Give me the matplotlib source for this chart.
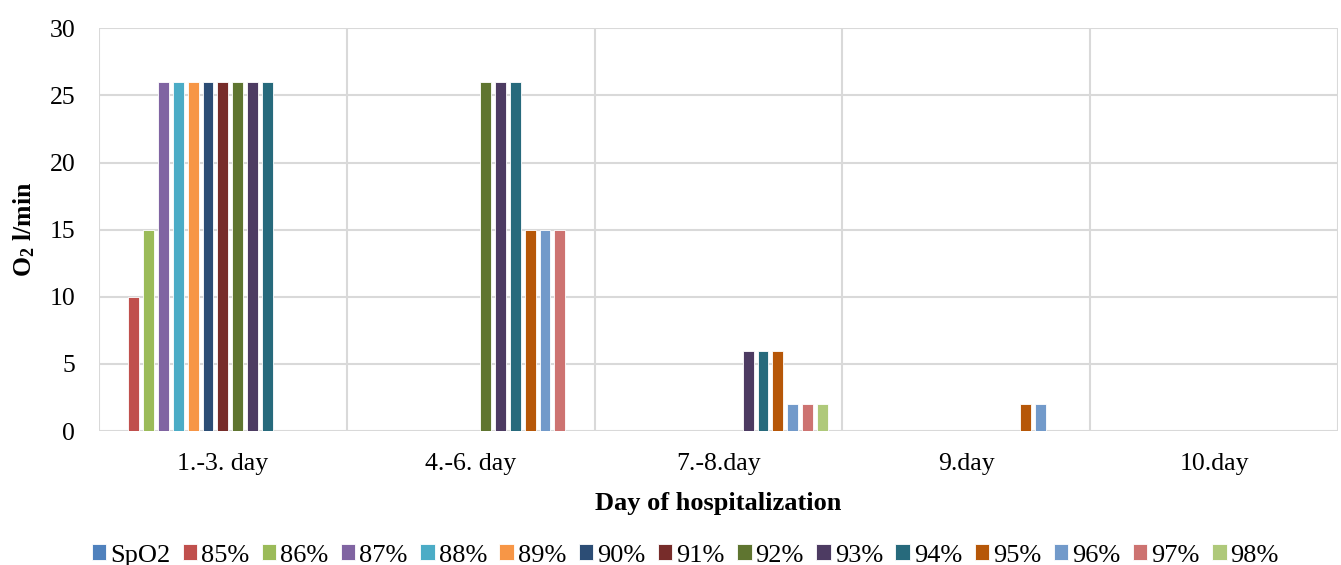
import matplotlib
matplotlib.use("Agg")
import matplotlib.pyplot as plt
import numpy as np

plt.rcParams["font.family"] = ["Liberation Serif", "DejaVu Serif"]
plt.rcParams["mathtext.fontset"] = "custom"
plt.rcParams["mathtext.rm"] = "Liberation Serif"
plt.rcParams["mathtext.bf"] = "Liberation Serif:bold"

# ─── Data ────────────────────────────────────────────────────
days = ["1.-3. day", "4.-6. day", "7.-8.day", "9.day", "10.day"]
series = ["SpO2", "85%", "86%", "87%", "88%", "89%", "90%", "91%",
          "92%", "93%", "94%", "95%", "96%", "97%", "98%"]

# O2 flow (l/min) per saturation level, one list per day group
day_1_3 = [0, 10, 15, 26, 26, 26, 26, 26, 26, 26, 26, 0, 0, 0, 0]
day_4_6 = [0, 0, 0, 0, 0, 0, 0, 0, 26, 26, 26, 15, 15, 15, 0]
day_7_8 = [0, 0, 0, 0, 0, 0, 0, 0, 0, 6, 6, 6, 2, 2, 2]
day_9 = [0, 0, 0, 0, 0, 0, 0, 0, 0, 0, 0, 2, 2, 0, 0]
day_10 = [0, 0, 0, 0, 0, 0, 0, 0, 0, 0, 0, 0, 0, 0, 0]

colors = ["#4F81BD", "#C0504D", "#9BBB59", "#8064A2", "#4BACC6", "#F79646",
          "#2C4D75", "#772C2A", "#5F7530", "#4D3B62", "#276A7C", "#B65708",
          "#729ACA", "#CD7371", "#AFC97A"]

values = np.array([day_1_3, day_4_6, day_7_8, day_9, day_10], float)

# ─── Plot ────────────────────────────────────────────────────
fig = plt.figure(figsize=(13.41, 5.65), dpi=100)
ax = fig.add_axes([0.0738, 0.237, 0.9239, 0.713])

x = np.arange(len(days))
step = 0.06
width = 0.044
for i, (name, col) in enumerate(zip(series, colors)):
    off = (i - (len(series) - 1) / 2) * step
    ax.bar(x + off, values[:, i], width=width, color=col, label=name,
           edgecolor="white", linewidth=0.6, zorder=3)

ax.set_xlim(-0.5, len(days) - 0.5)
ax.set_ylim(0, 30)
ax.set_yticks(np.arange(0, 31, 5))
ax.set_xticks(x)
ax.set_xticklabels(days)
ax.set_xticks(np.arange(-0.5, len(days)), minor=True)

ax.grid(True, axis="y", color="#D9D9D9", linewidth=1.5, zorder=0)
ax.grid(True, axis="x", which="minor", color="#D9D9D9", linewidth=1.5, zorder=0)
ax.tick_params(axis="both", which="both", length=0, labelsize=18.5)
ax.tick_params(axis="x", pad=16)
ax.tick_params(axis="y", pad=17)
for s in ax.spines.values():
    s.set_visible(False)

ax.set_xlabel("Day of hospitalization", fontsize=19, fontweight="bold", labelpad=12)
ax.set_ylabel(r"$\mathbf{O_2}$ l/min", fontsize=18.5, fontweight="bold", labelpad=9)

# single-row legend along the bottom of the figure
fig.legend(loc="center", bbox_to_anchor=(0.511, 0.017), ncol=len(series),
           frameon=False, prop={"family": "Liberation Serif", "size": 19},
           handlelength=0.55, handleheight=0.55,
           handletextpad=0.15, columnspacing=0.47, borderaxespad=0, borderpad=0)

fig.savefig("out.png", dpi=100)
